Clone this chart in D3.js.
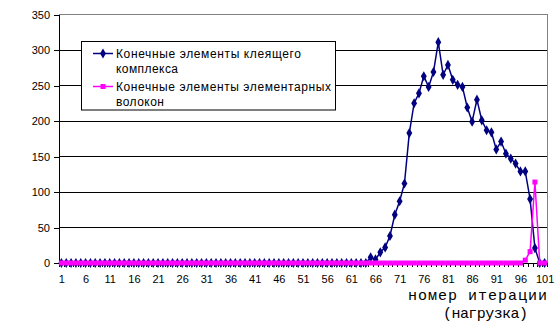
<!DOCTYPE html>
<html><head><meta charset="utf-8">
<script src="https://cdn.jsdelivr.net/npm/d3@7"></script>
<style>
html,body{margin:0;padding:0;background:#fff;}
svg{display:block;}
</style></head>
<body>
<svg id="c" width="560" height="327" font-family="Arial,'Liberation Sans',sans-serif"></svg>
<script>
const categories = d3.range(1, 102);
const seriesNames = ["Конечные элементы клеящего комплекса", "Конечные элементы элементарных волокон"];
// non-zero values keyed by iteration number; every other iteration is 0
const adhesiveNonZero = [
  [65,8],[66,5],[67,15],[68,22],[69,38],[70,68],[71,87],[72,112],[73,183],[74,225],
  [75,239],[76,263],[77,248],[78,269],[79,311],[80,265],[81,279],[82,258],[83,251],[84,248],
  [85,219],[86,199],[87,230],[88,201],[89,187],[90,184],[91,160],[92,171],[93,154],[94,147],
  [95,140],[96,129],[97,129],[98,90],[99,21]
];
const fibreNonZero = [[97,4],[98,16],[99,114]];
const yTicks = [0,50,100,150,200,250,300,350];
const xTickLabels = categories.filter(c => (c - 1) % 5 === 0);
const axisTitle = ["номер итерации", "(нагрузка)"];

const adhesive = categories.map(c => { const f = adhesiveNonZero.find(d => d[0] === c); return f ? f[1] : 0; });
const fibre = categories.map(c => { const f = fibreNonZero.find(d => d[0] === c); return f ? f[1] : 0; });

const svg = d3.select("#c");
const L = 59, R = 547, T = 14.5, B = 263;
const x = d3.scaleLinear().domain([0.5, 101.5]).range([L, R]);
const y = d3.scaleLinear().domain([0, 350]).range([B, T]);

// gridlines
svg.append("g").selectAll("line").data(yTicks.filter(v => v > 0 && v < 350)).join("line")
  .attr("x1", L).attr("x2", R).attr("y1", d => y(d)).attr("y2", d => y(d))
  .attr("stroke", "#000").attr("stroke-width", 1).attr("shape-rendering", "crispEdges");
// plot border (top/right grey)
svg.append("path").attr("d", `M${L},${y(350)}H${R}V${B}`).attr("fill", "none")
  .attr("stroke", "#808080").attr("stroke-width", 1).attr("shape-rendering", "crispEdges");

// y axis
const yAxis = d3.axisLeft(y).tickValues(yTicks).tickSize(5).tickPadding(4);
const gy = svg.append("g").attr("transform", `translate(${L},0)`).call(yAxis);
gy.select(".domain").attr("stroke", "#000").attr("shape-rendering", "crispEdges");
gy.selectAll(".tick line").attr("stroke", "#000").attr("shape-rendering", "crispEdges");
gy.selectAll("text").style("font-size", "11px").style("font-family", "Arial,'Liberation Sans',sans-serif").attr("fill", "#000");

// x axis ticks at category boundaries
const xTicksAxis = d3.axisBottom(x).tickValues(d3.range(0.5, 102, 1)).tickSize(4).tickFormat("");
const gx = svg.append("g").attr("transform", `translate(0,${B})`).call(xTicksAxis);
gx.select(".domain").attr("stroke", "#000").attr("shape-rendering", "crispEdges");
gx.selectAll(".tick line").attr("stroke", "#000").attr("shape-rendering", "crispEdges");
const xLab = d3.axisBottom(x).tickValues(xTickLabels).tickSize(0).tickPadding(12);
const gx2 = svg.append("g").attr("transform", `translate(0,${B})`).call(xLab);
gx2.select(".domain").remove();
gx2.selectAll("text").style("font-size", "11px").style("font-family", "Arial,'Liberation Sans',sans-serif").attr("fill", "#000");

// series
const navy = "#000080", pink = "#ff00ff";
const line = d3.line().x((d, i) => x(categories[i])).y(d => y(d));
svg.append("path").datum(adhesive).attr("d", line).attr("fill", "none").attr("stroke", navy).attr("stroke-width", 1.5);
svg.append("g").selectAll("path").data(adhesive).join("path")
  .attr("d", d3.symbol(d3.symbolDiamond, 30))
  .attr("transform", (d, i) => `translate(${x(categories[i])},${y(d)})`).attr("fill", navy);
svg.append("path").datum(fibre).attr("d", line).attr("fill", "none").attr("stroke", pink).attr("stroke-width", 1.5);
svg.append("g").selectAll("rect").data(fibre).join("rect")
  .attr("x", (d, i) => x(categories[i]) - 2.5).attr("y", d => y(d) - 2.5)
  .attr("width", 5).attr("height", 5).attr("fill", pink);

// legend
const lg = svg.append("g");
lg.append("rect").attr("x", 81.5).attr("y", 41.5).attr("width", 254).attr("height", 68.5)
  .attr("fill", "#fff").attr("stroke", "#000").attr("stroke-width", 1);
const legendRows = [
  {lines: ["Конечные элементы клеящего", "комплекса"], widths: [185, 62], color: navy, sym: "d", ly: 53.5},
  {lines: ["Конечные элементы элементарных", "волокон"], widths: [215, 48], color: pink, sym: "s", ly: 86.5}
];
legendRows.forEach(r => {
  lg.append("line").attr("x1", 93).attr("x2", 113).attr("y1", r.ly).attr("y2", r.ly)
    .attr("stroke", r.color).attr("stroke-width", 1.5);
  if (r.sym === "d") lg.append("path").attr("d", d3.symbol(d3.symbolDiamond, 30)).attr("transform", `translate(103,${r.ly})`).attr("fill", r.color);
  else lg.append("rect").attr("x", 100.5).attr("y", r.ly - 2.5).attr("width", 5).attr("height", 5).attr("fill", r.color);
  r.lines.forEach((t, k) => {
    lg.append("text").attr("x", 116).attr("y", r.ly + 4.5 + k * 15).style("font-size", "12px")
      .style("font-family", "Arial,'Liberation Sans',sans-serif")
      .attr("textLength", r.widths[k]).attr("lengthAdjust", "spacing").attr("fill", "#000").text(t);
  });
});

// axis title
const titleX = [408, 443], titleY = [300, 318], titleW = [139, 85];
axisTitle.forEach((t, k) => {
  svg.append("text").attr("x", titleX[k]).attr("y", titleY[k])
    .style("font-size", "15px")
    .style("font-family", "'Liberation Mono','Courier New','DejaVu Sans Mono',monospace")
    .attr("fill", "#000")
    .attr("textLength", titleW[k]).attr("lengthAdjust", "spacing").text(t);
});
</script>
</body></html>
